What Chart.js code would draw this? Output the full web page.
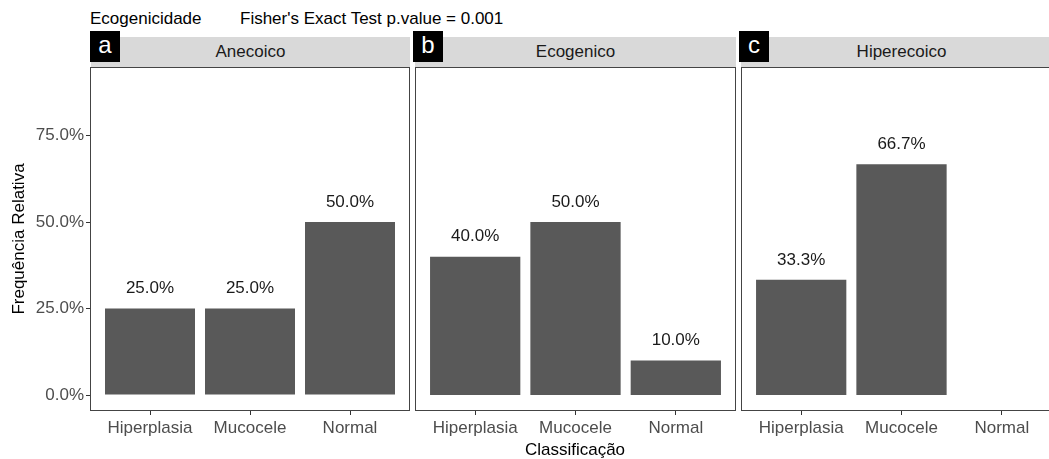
<!DOCTYPE html>
<html>
<head>
<meta charset="utf-8">
<script src="https://cdn.jsdelivr.net/npm/chart.js@4.4.0/dist/chart.umd.min.js"></script>
<style>
    body { margin: 0; background: #fff; }
    #wrap { position: relative; width: 1049px; height: 459px; overflow: hidden; background: #fff;
        font-family: "Liberation Sans", Arial, sans-serif; }
    canvas { position: absolute; }
    .strip { position: absolute; top: 37px; height: 30px; background: #d9d9d9; color: #1a1a1a;
        font-size: 17px; line-height: 30px; text-align: center; }
    .tag { position: absolute; top: 31px; width: 30px; height: 31px; background: #000; color: #fff;
        font-size: 24px; line-height: 28px; text-align: center; }
    .txt { position: absolute; color: #000; font-size: 17px; white-space: nowrap; }
</style>
</head>
<body>
<div id="wrap">
    <div class="txt" style="left:90px; top:9px;">Ecogenicidade</div>
    <div class="txt" style="left:240px; top:9px;">Fisher's Exact Test p.value = 0.001</div>

    <div class="strip" style="left:91px; width:319px;">Anecoico</div>
    <div class="strip" style="left:415px; width:321px;">Ecogenico</div>
    <div class="strip" style="left:741px; width:321px;">Hiperecoico</div>
    <div class="tag" style="left:90px;">a</div>
    <div class="tag" style="left:413px;">b</div>
    <div class="tag" style="left:739px;">c</div>

    <canvas id="chartA" width="410" height="392" style="left:0px; top:67px;"></canvas>
    <canvas id="chartB" width="321" height="392" style="left:415px; top:67px;"></canvas>
    <canvas id="chartC" width="321" height="392" style="left:741px; top:67px;"></canvas>

    <div class="txt" style="left:575px; top:440px; transform:translateX(-50%);">Classificação</div>
</div>
<script>
// Dados
const categories = ['Hiperplasia', 'Mucocele', 'Normal'];
const anecoico = [25.0, 25.0, 50.0];
const ecogenico = [40.0, 50.0, 10.0];
const hiperecoico = [33.3, 66.7, null];
const yTicks = [0, 25, 50, 75];

const BAR = '#595959';
const FONT = { family: '"Liberation Sans", Arial, sans-serif', size: 17 };

// borda do painel
const panelBorder = {
    id: 'panelBorder',
    afterDraw(chart) {
        const a = chart.chartArea;
        const ctx = chart.ctx;
        ctx.save();
        ctx.strokeStyle = '#444';
        ctx.lineWidth = 1;
        ctx.strokeRect(a.left + 0.5, a.top + 0.5, a.right - a.left - 1, a.bottom - a.top - 1);
        ctx.restore();
    }
};

// rótulos em cima das barras
const barLabels = {
    id: 'barLabels',
    afterDatasetsDraw(chart) {
        const ctx = chart.ctx;
        const meta = chart.getDatasetMeta(0);
        const values = chart.data.datasets[0].data;
        ctx.save();
        ctx.font = '17px "Liberation Sans", Arial, sans-serif';
        ctx.fillStyle = '#1a1a1a';
        ctx.textAlign = 'center';
        ctx.textBaseline = 'middle';
        meta.data.forEach((el, i) => {
            const v = values[i].y;
            if (v === null) return;
            ctx.fillText(v.toFixed(1) + '%', el.x, el.y - 20);
        });
        ctx.restore();
    }
};

function makeChart(id, values, showY) {
    const ctx = document.getElementById(id).getContext('2d');
    return new Chart(ctx, {
        type: 'bar',
        data: {
            datasets: [{
                data: categories.map((c, i) => ({ x: i + 1, y: values[i] })),
                backgroundColor: BAR,
                borderWidth: 0,
                categoryPercentage: 0.9,
                barPercentage: 1
            }]
        },
        options: {
            responsive: false,
            animation: false,
            layout: { padding: 0 },
            plugins: {
                legend: { display: false },
                tooltip: { enabled: false }
            },
            scales: {
                x: {
                    type: 'linear',
                    offset: false,
                    min: 0.4,
                    max: 3.6,
                    afterBuildTicks: (s) => { s.ticks = [1, 2, 3].map(v => ({ value: v })); },
                    afterFit: (s) => { s.height = 48; s.paddingLeft = 0; s.paddingRight = 0; },
                    ticks: {
                        callback: (v) => categories[v - 1],
                        font: FONT,
                        color: '#4d4d4d',
                        padding: 3,
                        maxRotation: 0,
                        autoSkip: false
                    },
                    grid: { offset: false, drawOnChartArea: false, tickLength: 4, color: '#333' },
                    border: { display: false }
                },
                y: {
                    display: showY,
                    min: -4.6,
                    max: 94.8,
                    afterBuildTicks: (s) => { s.ticks = yTicks.map(v => ({ value: v })); },
                    afterFit: (s) => { s.width = showY ? 90 : 0; s.paddingTop = 0; s.paddingBottom = 0; },
                    ticks: {
                        callback: (v) => v.toFixed(1) + '%',
                        font: FONT,
                        color: '#4d4d4d',
                        padding: 2
                    },
                    grid: { drawOnChartArea: false, tickLength: 4, color: '#333' },
                    border: { display: false },
                    title: {
                        display: true,
                        text: 'Frequência Relativa',
                        font: FONT,
                        color: '#000',
                        padding: { top: 9, bottom: 0 }
                    }
                }
            }
        },
        plugins: [panelBorder, barLabels]
    });
}

makeChart('chartA', anecoico, true);
makeChart('chartB', ecogenico, false);
makeChart('chartC', hiperecoico, false);
</script>
</body>
</html>
